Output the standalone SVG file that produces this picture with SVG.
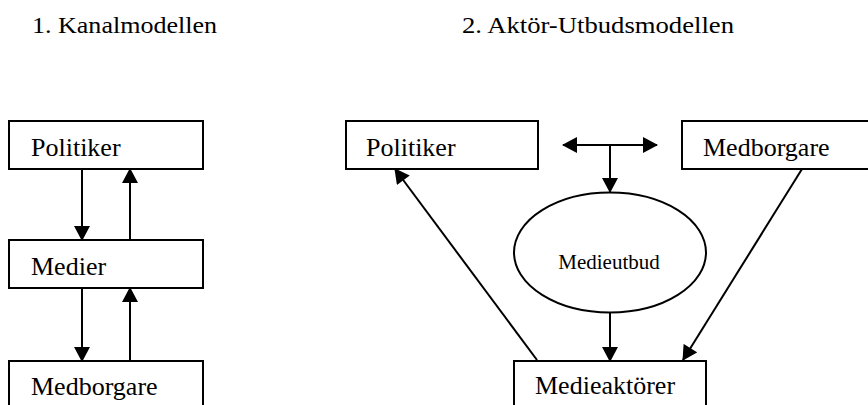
<svg xmlns="http://www.w3.org/2000/svg" width="868" height="405" viewBox="0 0 868 405">
<style>
  .box { fill: #fff; stroke: #000; stroke-width: 2; }
  .lbl { font-family: "Liberation Serif", "Times New Roman", serif; font-size: 26px; fill: #000; }
  .ttl { font-family: "Liberation Serif", "Times New Roman", serif; font-size: 23px; fill: #000; }
  .small { font-family: "Liberation Serif", "Times New Roman", serif; font-size: 21px; fill: #000; }
  .conn { stroke: #000; stroke-width: 2; fill: none; }
</style>
<defs>
  <marker id="ah" markerUnits="userSpaceOnUse" markerWidth="16" markerHeight="16" viewBox="0 0 15 16" refX="14" refY="8" orient="auto">
    <path d="M0,0 L15,8 L0,16 z" fill="#000"/>
  </marker>
  <marker id="ahs" markerUnits="userSpaceOnUse" markerWidth="16" markerHeight="16" viewBox="0 0 15 16" refX="1" refY="8" orient="auto">
    <path d="M15,0 L0,8 L15,16 z" fill="#000"/>
  </marker>
</defs>
<rect width="868" height="405" fill="#fff"/>
<text class="ttl" x="32" y="33" textLength="185" lengthAdjust="spacingAndGlyphs">1. Kanalmodellen</text>
<text class="ttl" x="462" y="33" textLength="272" lengthAdjust="spacingAndGlyphs">2. Aktör-Utbudsmodellen</text>

<g id="connectors">
  <line class="conn" x1="82" y1="169" x2="82" y2="240" marker-end="url(#ah)"/>
  <line class="conn" x1="130" y1="240" x2="130" y2="169" marker-end="url(#ah)"/>
  <line class="conn" x1="82" y1="288" x2="82" y2="361" marker-end="url(#ah)"/>
  <line class="conn" x1="130" y1="361" x2="130" y2="288" marker-end="url(#ah)"/>
  <line class="conn" x1="563" y1="145" x2="657" y2="145" marker-start="url(#ahs)" marker-end="url(#ah)"/>
  <line class="conn" x1="610" y1="145" x2="610" y2="192" marker-end="url(#ah)"/>
  <line class="conn" x1="610" y1="313" x2="610" y2="361" marker-end="url(#ah)"/>
  <line class="conn" x1="537" y1="360" x2="395" y2="169" marker-end="url(#ah)"/>
  <line class="conn" x1="802" y1="169" x2="683" y2="360" marker-end="url(#ah)"/>
</g>

<g id="k-politiker">
  <rect class="box" x="9" y="121" width="194" height="48"/>
  <text class="lbl" x="31" y="156">Politiker</text>
</g>
<g id="k-medier">
  <rect class="box" x="9" y="240" width="194" height="48"/>
  <text class="lbl" x="31" y="275">Medier</text>
</g>
<g id="k-medborgare">
  <rect class="box" x="9" y="361" width="194" height="48"/>
  <text class="lbl" x="31" y="395">Medborgare</text>
</g>

<g id="a-politiker">
  <rect class="box" x="346" y="121" width="192" height="48"/>
  <text class="lbl" x="366" y="156">Politiker</text>
</g>
<g id="a-medborgare">
  <rect class="box" x="682" y="121" width="200" height="48"/>
  <text class="lbl" x="703" y="156">Medborgare</text>
</g>
<g id="a-medieutbud">
  <ellipse cx="610" cy="252.5" rx="96" ry="60" fill="#fff" stroke="#000" stroke-width="2"/>
  <text class="small" x="609" y="269" text-anchor="middle">Medieutbud</text>
</g>
<g id="a-medieaktorer">
  <rect class="box" x="514" y="361" width="192" height="48"/>
  <text class="lbl" x="535" y="394">Medieaktörer</text>
</g>
</svg>
